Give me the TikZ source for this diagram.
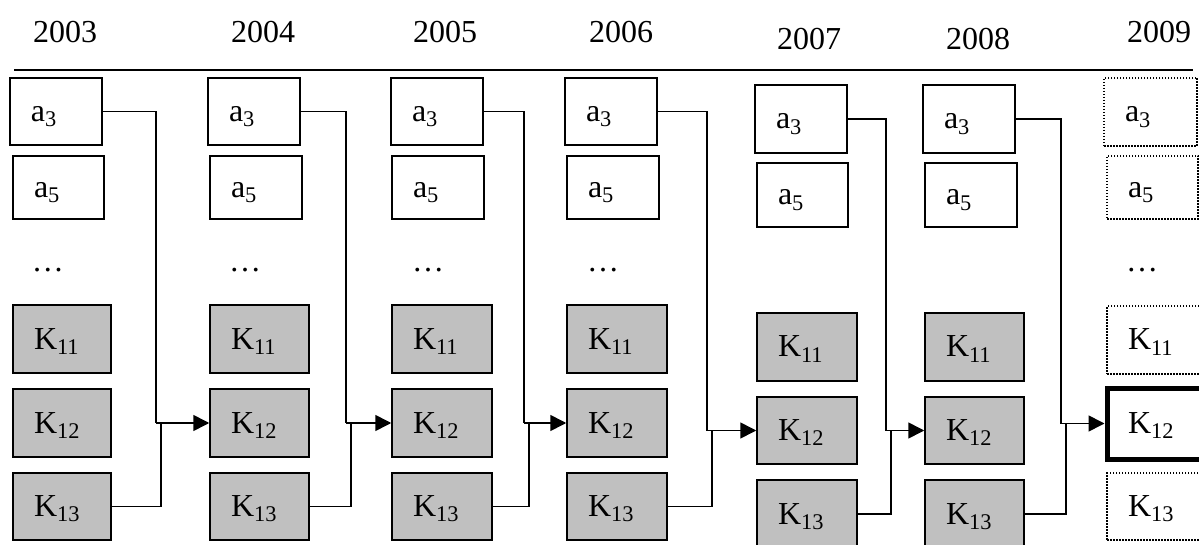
\documentclass[tikz,border=0pt]{standalone}
\usepackage{fontspec}
\setmainfont{Liberation Serif}
\usetikzlibrary{arrows.meta}
\definecolor{boxgray}{RGB}{192,192,192}
\newcommand\mybox[7]{%
  \pgfmathsetmacro\mybw{(#5-#3)/2}%
  \pgfmathsetmacro\mybh{(#6-#4)/2}%
  \pgfmathsetmacro\mytw{\mybw-21}%
  \node[#1, minimum width=\mybw pt, minimum height=\mybh pt, text width=\mytw pt] (#2) at ({(#3+#5)/2},{(#4+#6)/2}) {#7};}
\tikzset{
  bx/.style={draw, line width=0.75pt, rectangle, inner xsep=10.5pt, inner ysep=0pt,
    align=left, text height=11pt, text depth=1pt, font=\fontsize{16}{19}\selectfont},
  abox/.style={bx, fill=white},
  kbox/.style={bx, fill=boxgray},
  dbox/.style={bx, fill=white, dash pattern=on 0.75pt off 0.75pt},
  tbox/.style={bx, fill=white, line width=2.5pt},
  conn/.style={line width=0.65pt},
  arr/.style={line width=0.8pt, -{Triangle[length=8pt,width=8pt]}},
  yr/.style={anchor=base, inner sep=0pt, font=\fontsize{16}{19}\selectfont},
  ell/.style={anchor=base, inner sep=0pt, font=\fontsize{16}{19}\selectfont},
}
\begin{document}
\begin{tikzpicture}[x=0.5pt,y=-0.5pt]
\useasboundingbox (0,0) rectangle (1199,545);
\begin{scope}
\clip (0,0) rectangle (1199,545);
% years
\node[yr] (y03) at (65,43) {2003};
\node[yr] (y04) at (263,43) {2004};
\node[yr] (y05) at (445,43) {2005};
\node[yr] (y06) at (621,43) {2006};
\node[yr] (y07) at (809,50) {2007};
\node[yr] (y08) at (978,50) {2008};
\node[yr] (y09) at (1159,43) {2009};
\coordinate (hl) at (14,70);
\coordinate (hr) at (1193,70);
\draw[line width=0.7pt] (hl) -- (hr);
% 2003
\mybox{abox}{A3}{10}{78}{102}{145}{a\textsubscript{3}}
\mybox{abox}{A5}{13}{156}{104}{219}{a\textsubscript{5}}
\mybox{kbox}{A11}{13}{305}{111}{373}{K\textsubscript{11}}
\mybox{kbox}{A12}{13}{389}{111}{457}{K\textsubscript{12}}
\mybox{kbox}{A13}{13}{473}{111}{540}{K\textsubscript{13}}
\node[ell] (Ad) at (48,271) {…};
% 2004
\mybox{abox}{B3}{208}{78}{300}{145}{a\textsubscript{3}}
\mybox{abox}{B5}{210}{156}{302}{219}{a\textsubscript{5}}
\mybox{kbox}{B11}{210}{305}{309}{373}{K\textsubscript{11}}
\mybox{kbox}{B12}{210}{389}{309}{457}{K\textsubscript{12}}
\mybox{kbox}{B13}{210}{473}{309}{540}{K\textsubscript{13}}
\node[ell] (Bd) at (245,271) {…};
% 2005
\mybox{abox}{C3}{391}{78}{483}{145}{a\textsubscript{3}}
\mybox{abox}{C5}{392}{156}{484}{219}{a\textsubscript{5}}
\mybox{kbox}{C11}{392}{305}{492}{373}{K\textsubscript{11}}
\mybox{kbox}{C12}{392}{389}{492}{457}{K\textsubscript{12}}
\mybox{kbox}{C13}{392}{473}{492}{540}{K\textsubscript{13}}
\node[ell] (Cd) at (428,271) {…};
% 2006
\mybox{abox}{D3}{565}{78}{657}{145}{a\textsubscript{3}}
\mybox{abox}{D5}{567}{156}{659}{219}{a\textsubscript{5}}
\mybox{kbox}{D11}{567}{305}{667}{373}{K\textsubscript{11}}
\mybox{kbox}{D12}{567}{389}{667}{457}{K\textsubscript{12}}
\mybox{kbox}{D13}{567}{473}{667}{540}{K\textsubscript{13}}
\node[ell] (Dd) at (603,271) {…};
% 2007
\mybox{abox}{E3}{755}{85}{847}{153}{a\textsubscript{3}}
\mybox{abox}{E5}{757}{163}{848}{227}{a\textsubscript{5}}
\mybox{kbox}{E11}{757}{313}{857}{381}{K\textsubscript{11}}
\mybox{kbox}{E12}{757}{397}{857}{464}{K\textsubscript{12}}
\mybox{kbox}{E13}{757}{480}{857}{548}{K\textsubscript{13}}
% 2008
\mybox{abox}{F3}{923}{85}{1015}{153}{a\textsubscript{3}}
\mybox{abox}{F5}{925}{163}{1017}{227}{a\textsubscript{5}}
\mybox{kbox}{F11}{925}{313}{1024}{381}{K\textsubscript{11}}
\mybox{kbox}{F12}{925}{397}{1024}{464}{K\textsubscript{12}}
\mybox{kbox}{F13}{925}{480}{1024}{548}{K\textsubscript{13}}
% 2009
\mybox{dbox}{G3}{1104}{78}{1197}{146}{a\textsubscript{3}}
\mybox{dbox}{G5}{1107}{156}{1198}{219}{a\textsubscript{5}}
\mybox{dbox}{G11}{1107}{306}{1206}{374}{K\textsubscript{11}}
\mybox{tbox}{G12}{1107}{388}{1206}{459}{K\textsubscript{12}}
\mybox{dbox}{G13}{1107}{473}{1206}{540}{K\textsubscript{13}}
\node[ell] (Gd) at (1142,271) {…};
% connectors
\coordinate (jA1) at (156,423);   \coordinate (jA2) at (161,423);
\coordinate (jB1) at (346,423);   \coordinate (jB2) at (351,423);
\coordinate (jC1) at (524,423);   \coordinate (jC2) at (529,423);
\coordinate (jD1) at (707,430.5); \coordinate (jD2) at (712,430.5);
\coordinate (jE1) at (886,430.5); \coordinate (jE2) at (891,430.5);
\coordinate (jF1) at (1061,423.5);\coordinate (jF2) at (1066,423.5);
\draw[conn] (A3.east) -| (jA1);  \draw[conn] (A13.east) -| (jA2);  \draw[arr] (jA1) -- (B12.west);
\draw[conn] (B3.east) -| (jB1);  \draw[conn] (B13.east) -| (jB2);  \draw[arr] (jB1) -- (C12.west);
\draw[conn] (C3.east) -| (jC1);  \draw[conn] (C13.east) -| (jC2);  \draw[arr] (jC1) -- (D12.west);
\draw[conn] (D3.east) -| (jD1);  \draw[conn] (D13.east) -| (jD2);  \draw[arr] (jD1) -- (E12.west);
\draw[conn] (E3.east) -| (jE1);  \draw[conn] (E13.east) -| (jE2);  \draw[arr] (jE1) -- (F12.west);
\draw[conn] (F3.east) -| (jF1);  \draw[conn] (F13.east) -| (jF2);  \draw[arr] (jF1) -- (G12.west);
\end{scope}
\end{tikzpicture}
\end{document}
